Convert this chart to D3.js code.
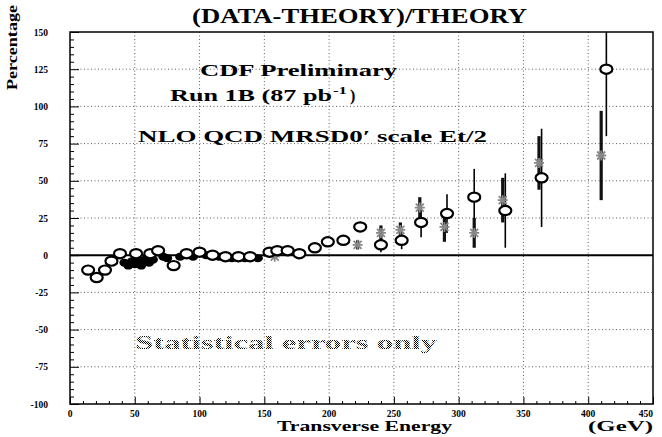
<!DOCTYPE html>
<html>
<head>
<meta charset="utf-8">
<script src="https://cdn.jsdelivr.net/npm/d3@7"></script>
<style>
  body { margin:0; background:#fff; }
  svg { display:block; }
  svg text { font-family:"Liberation Serif","Times New Roman","DejaVu Serif",serif; font-weight:bold; }
</style>
</head>
<body>
<div id="chart"></div>
<script>
// data: Et (GeV), (data-theory)/theory (%), stat error (%)
const circleEt  = [14, 20.6, 27, 32, 38.6, 51, 62, 68, 80, 90, 100, 110, 120, 130, 139, 154, 160, 168, 177, 189, 199, 211, 224, 240, 256, 271, 291, 312, 336, 364, 414];
const circleVal = [-10, -15, -10, -4, 1, 1, 1, 3, -7, 1, 2, 0, -1, -1, -1, 2, 3, 3, 1, 5, 9, 10, 19, 7, 10, 22, 28, 39, 30, 52, 125];
const circleErr = [2, 2.5, 2, 1.5, 1, 1, 1, 1, 1, 1, 1, 1, 1, 1, 1, 1, 1, 1, 1, 1.5, 2, 2, 3, 5, 6, 10, 13, 19, 25, 33, 45];

const starEt  = [158, 199, 222, 240, 255, 270, 289, 312, 334, 362, 410];
const starVal = [-1, 9, 7, 15, 17, 32, 19, 15, 37, 62, 67];
const starErr = [1, 2, 3, 5, 5, 7, 10, 10, 15, 18, 30];

const dotEt  = [42, 45, 48, 50, 53, 55, 58, 61, 64, 72, 75, 85, 95, 105, 115, 125, 135, 145];
const dotVal = [-5, -7, -4, -6, -3, -7, -3, -5, -3, -1, -2, -1, -1, 0, -1, -2, -2, -2];

const xTicks = [0, 50, 100, 150, 200, 250, 300, 350, 400, 450];
const yTicks = [-100, -75, -50, -25, 0, 25, 50, 75, 100, 125, 150];

const W = 662, H = 437;
const margin = { top:32, right:9, bottom:33, left:70 };

const svg = d3.select("#chart").append("svg")
  .attr("width", W).attr("height", H);

const x = d3.scaleLinear().domain([0, 450]).range([margin.left, W - margin.right]);
const y = d3.scaleLinear().domain([-100, 150]).range([H - margin.bottom, margin.top]);

// stipple pattern for the grey text
const defs = svg.append("defs");
const pat = defs.append("pattern").attr("id", "stip")
  .attr("width", 2).attr("height", 2).attr("patternUnits", "userSpaceOnUse");
pat.append("rect").attr("width", 2).attr("height", 2).attr("fill", "#fff");
pat.append("rect").attr("width", 1).attr("height", 1).attr("fill", "#000");
pat.append("rect").attr("x", 1).attr("y", 1).attr("width", 1).attr("height", 1).attr("fill", "#000");

defs.append("clipPath").attr("id", "plot")
  .append("rect")
  .attr("x", margin.left).attr("y", margin.top)
  .attr("width", W - margin.left - margin.right)
  .attr("height", H - margin.top - margin.bottom);

// ── grid ─────────────────────────────────────────────
const grid = svg.append("g").attr("stroke", "#333").attr("stroke-width", 0.8)
  .attr("stroke-dasharray", "1,2.5");
grid.selectAll("line.v").data(xTicks.slice(1, -1)).enter().append("line")
  .attr("x1", d => x(d)).attr("x2", d => x(d))
  .attr("y1", y(150)).attr("y2", y(-100));
grid.selectAll("line.h").data(yTicks.filter(d => d !== 0 && d !== 150 && d !== -100)).enter().append("line")
  .attr("x1", x(0)).attr("x2", x(450))
  .attr("y1", d => y(d)).attr("y2", d => y(d));

// ── axes (ticks inward) ──────────────────────────────
const xAx = svg.append("g").attr("transform", `translate(0,${y(-100)})`)
  .call(d3.axisTop(x).tickValues(d3.range(0, 451, 10)).tickSize(3).tickFormat(""));
xAx.selectAll(".tick line").filter(d => d % 50 === 0).attr("y2", -7);
const yAx = svg.append("g").attr("transform", `translate(${x(0)},0)`)
  .call(d3.axisRight(y).tickValues(d3.range(-100, 151, 5)).tickSize(4).tickFormat(""));
yAx.selectAll(".tick line").filter(d => d % 25 === 0).attr("x2", 9);
svg.selectAll(".domain").remove();

svg.append("rect")
  .attr("x", x(0)).attr("y", y(150))
  .attr("width", x(450) - x(0)).attr("height", y(-100) - y(150))
  .attr("fill", "none").attr("stroke", "#000").attr("stroke-width", 1.5);

svg.append("g").selectAll("text").data(xTicks).enter().append("text")
  .attr("x", d => x(d)).attr("y", y(-100) + 13)
  .attr("text-anchor", d => d === 450 ? "end" : "middle")
  .attr("font-size", 9.5)
  .text(d => d);

svg.append("g").selectAll("text").data(yTicks).enter().append("text")
  .attr("x", 48).attr("y", d => y(d) + 3.5)
  .attr("text-anchor", "end")
  .attr("font-size", 9.5)
  .text(d => d < 0 ? "-" + (-d) : d);

// zero line
svg.append("line")
  .attr("x1", x(0)).attr("x2", x(450))
  .attr("y1", y(0)).attr("y2", y(0))
  .attr("stroke", "#000").attr("stroke-width", 2);

// ── points ───────────────────────────────────────────
const plot = svg.append("g").attr("clip-path", "url(#plot)");

const circles = circleEt.map((e, i) => ({ et:e, v:circleVal[i], err:circleErr[i] }));
const stars   = starEt.map((e, i) => ({ et:e, v:starVal[i], err:starErr[i] }));
const dots    = dotEt.map((e, i) => ({ et:e, v:dotVal[i] }));

plot.append("g").selectAll("line").data(circles).enter().append("line")
  .attr("x1", d => x(d.et)).attr("x2", d => x(d.et))
  .attr("y1", d => y(d.v - d.err)).attr("y2", d => y(d.v + d.err))
  .attr("stroke", "#000").attr("stroke-width", 1.6);

plot.append("g").selectAll("line").data(stars).enter().append("line")
  .attr("x1", d => x(d.et)).attr("x2", d => x(d.et))
  .attr("y1", d => y(d.v - d.err)).attr("y2", d => y(d.v + d.err))
  .attr("stroke", "#111").attr("stroke-width", 3.2);

plot.append("g").selectAll("ellipse").data(dots).enter().append("ellipse")
  .attr("cx", d => x(d.et)).attr("cy", d => y(d.v))
  .attr("rx", 5).attr("ry", 4).attr("fill", "#000");

plot.append("g").selectAll("path").data(stars).enter().append("path")
  .attr("transform", d => `translate(${x(d.et)},${y(d.v)})`)
  .attr("d", "M-4,-4L4,4M-4,4L4,-4M0,-5L0,5M-5,0L5,0")
  .attr("stroke", "#888").attr("stroke-width", 1.8);

plot.append("g").selectAll("ellipse").data(circles).enter().append("ellipse")
  .attr("cx", d => x(d.et)).attr("cy", d => y(d.v))
  .attr("rx", 6).attr("ry", 4.6)
  .attr("fill", "#fff").attr("stroke", "#000").attr("stroke-width", 2.2);

// ── texts ────────────────────────────────────────────
svg.append("text").attr("x", 192).attr("y", 23)
  .attr("font-size", 20).attr("textLength", 335).attr("lengthAdjust", "spacingAndGlyphs")
  .text("(DATA-THEORY)/THEORY");

svg.append("text")
  .attr("transform", "translate(17,90) rotate(-90)")
  .attr("font-size", 14).attr("textLength", 85).attr("lengthAdjust", "spacingAndGlyphs")
  .text("Percentage");

svg.append("text").attr("x", 200).attr("y", 76)
  .attr("font-size", 16).attr("textLength", 197).attr("lengthAdjust", "spacingAndGlyphs")
  .text("CDF Preliminary");

svg.append("text").attr("x", 170).attr("y", 101)
  .attr("font-size", 16).attr("textLength", 162).attr("lengthAdjust", "spacingAndGlyphs")
  .text("Run 1B (87 pb");
svg.append("text").attr("x", 333).attr("y", 94)
  .attr("font-size", 10).attr("textLength", 14).attr("lengthAdjust", "spacingAndGlyphs")
  .text("-1");
svg.append("text").attr("x", 350).attr("y", 101)
  .attr("font-size", 16)
  .text(")");

svg.append("text").attr("x", 138).attr("y", 142)
  .attr("font-size", 16).attr("textLength", 349).attr("lengthAdjust", "spacingAndGlyphs")
  .text("NLO QCD MRSD0\u2032 scale Et/2");

svg.append("text").attr("x", 135).attr("y", 349)
  .attr("font-size", 19).attr("textLength", 302).attr("lengthAdjust", "spacingAndGlyphs")
  .attr("fill", "url(#stip)")
  .text("Statistical errors only");

svg.append("text").attr("x", 277).attr("y", 431)
  .attr("font-size", 15).attr("textLength", 175).attr("lengthAdjust", "spacingAndGlyphs")
  .text("Transverse Energy");

svg.append("text").attr("x", 588).attr("y", 431)
  .attr("font-size", 15).attr("textLength", 65).attr("lengthAdjust", "spacingAndGlyphs")
  .text("(GeV)");
</script>
</body>
</html>
